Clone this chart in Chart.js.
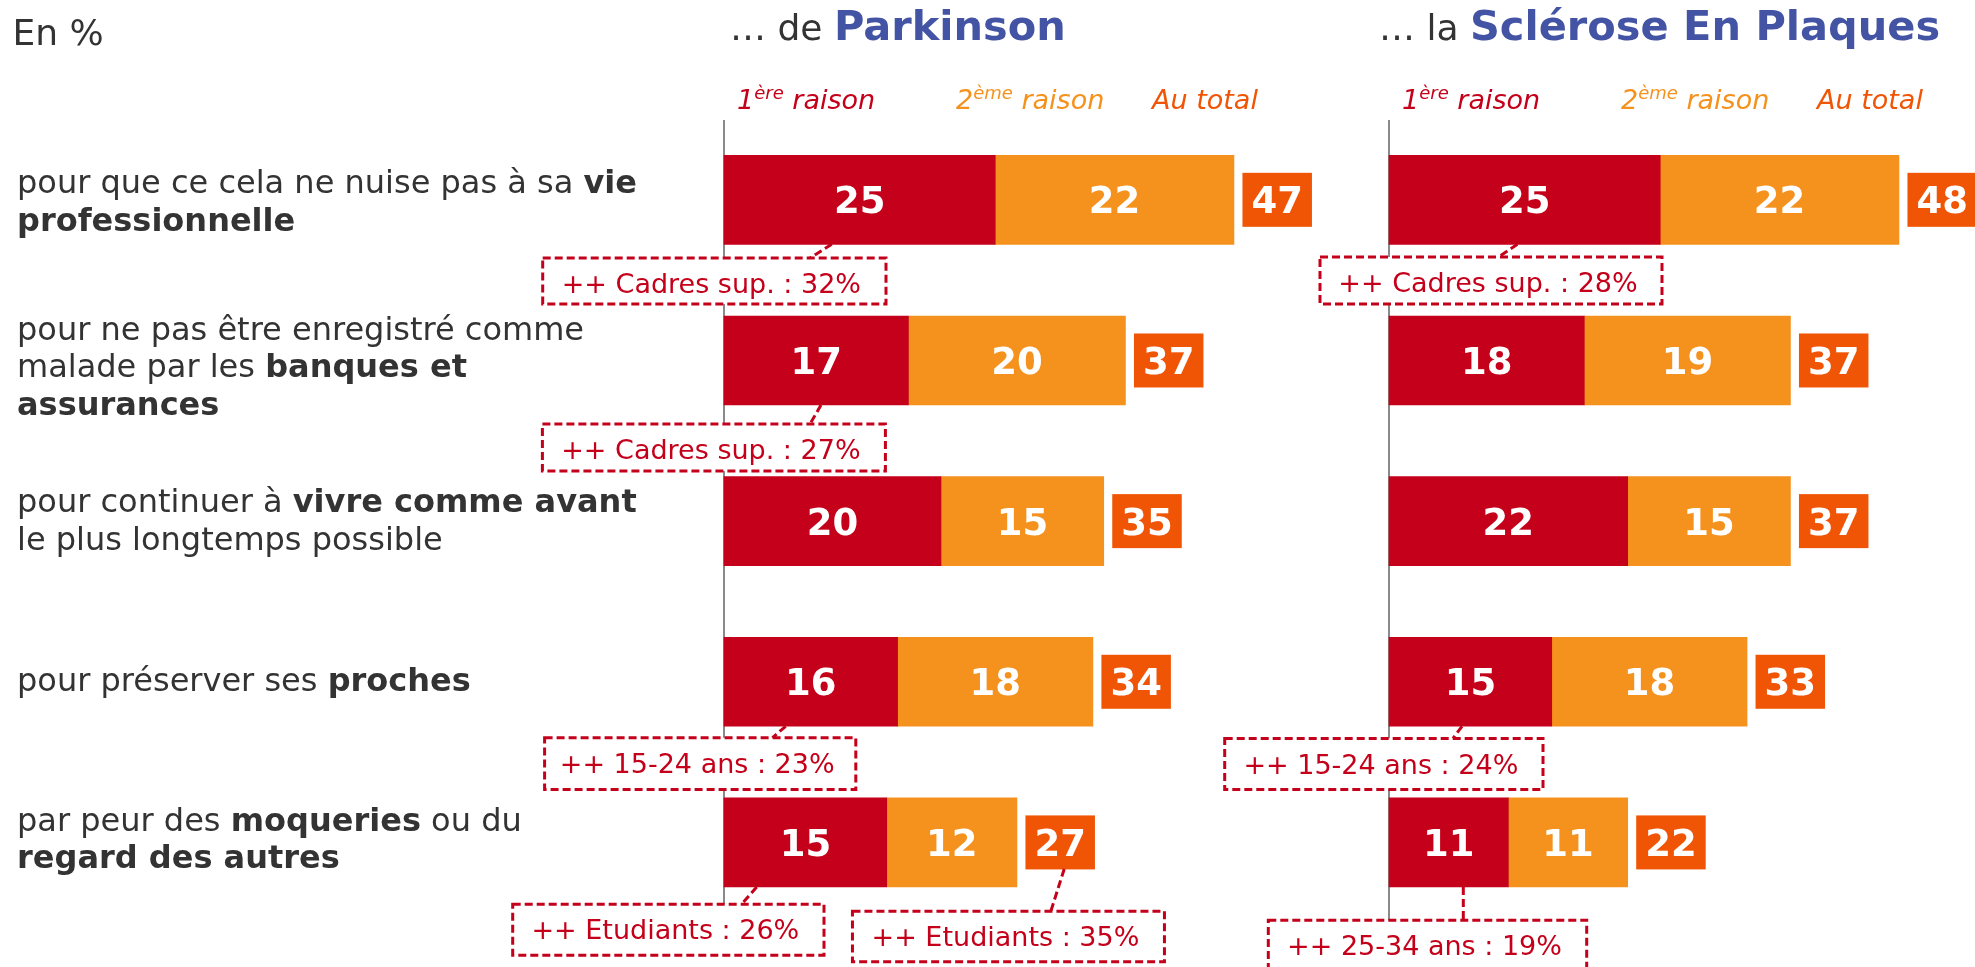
<!DOCTYPE html>
<html>
<head>
<meta charset="utf-8">
<script src="https://cdn.jsdelivr.net/npm/chart.js@4.4.0/dist/chart.umd.min.js"></script>
<style>
  html, body { margin: 0; padding: 0; background: #fff; }
</style>
</head>
<body>
<canvas id="myChart" width="1975" height="967"></canvas>
<script>
// ---- data ----
const categories = [
  'pour que ce cela ne nuise pas à sa **vie**|**professionnelle**',
  'pour ne pas être enregistré comme|malade par les **banques et**|**assurances**',
  'pour continuer à **vivre comme avant**|le plus longtemps possible',
  'pour préserver ses **proches**',
  'par peur des **moqueries** ou du|**regard des autres**'
];
const parkinsonFirst = [25, 17, 20, 16, 15];
const parkinsonSecond = [22, 20, 15, 18, 12];
const parkinsonTotal = [47, 37, 35, 34, 27];
const sepFirst = [25, 18, 22, 15, 11];
const sepSecond = [22, 19, 15, 18, 11];
const sepTotal = [48, 37, 37, 33, 22];

const parkinsonTitle = ['… de ', 'Parkinson'];
const sepTitle = ['… la ', 'Sclérose En Plaques'];
const seriesHeaders = [['1', 'ère', ' raison'], ['2', 'ème', ' raison'], ['Au total', '', '']];

const calloutPanel = ['xP', 'xP', 'xP', 'xP', 'xP', 'xS', 'xS', 'xS'];
const calloutRow = [0, 1, 3, 4, 4, 0, 3, 4];
const calloutText = [
  '++ Cadres sup. : 32%', '++ Cadres sup. : 27%', '++ 15-24 ans : 23%',
  '++ Etudiants : 26%', '++ Etudiants : 35%',
  '++ Cadres sup. : 28%', '++ 15-24 ans : 24%', '++ 25-34 ans : 19%'
];

// ---- layout / style ----
const W = 1975;
const UNIT = 10.85;               // px per point
const AXIS_P = 724, AXIS_S = 1389;
const RED = '#C4001A', ORANGE = '#F5921E', TOTAL = '#F05505', BLUE = '#4454A4', GREY = '#333333';
const FONT = '"DejaVu Sans", Verdana, sans-serif';
const headerColors = [RED, ORANGE, TOTAL];
const headerOffsets = [13, 232, 428];
const labelShift = [3, 8, 1, 0, -2];
// offsets from panel origin (or total box left) and row centre
const calloutLayout = [
  { anchor: 'bar', from: [107.7, 44.5], to: [86, 58.2], box: [-181.3, 58.2, 343.3, 46] },
  { anchor: 'bar', from: [97, 44.5], to: [86, 63.6], box: [-181.6, 63.6, 343, 47] },
  { anchor: 'bar', from: [61.7, 44.5], to: [48.3, 56], box: [-179.4, 56, 311.2, 51.6] },
  { anchor: 'bar', from: [32.7, 44.5], to: [17.7, 61.7], box: [-211.3, 61.7, 311.3, 51] },
  { anchor: 'total', from: [38.8, 26.5], to: [25.4, 68.7], box: [-173, 68.7, 312, 50.7] },
  { anchor: 'bar', from: [128.4, 44.5], to: [109.3, 57.2], box: [-69, 57.2, 342, 47] },
  { anchor: 'bar', from: [73, 44.5], to: [64, 56.6], box: [-164.3, 56.6, 318.3, 51] },
  { anchor: 'bar', from: [74.3, 44.5], to: [74.3, 77.7], box: [-120.7, 77.7, 318.4, 55] }
];

function font(size, weight, style) {
  return (style || '') + ' ' + (weight || '') + ' ' + size + 'px ' + FONT;
}

const panels = [
  { id: 'xP', first: parkinsonFirst, second: parkinsonSecond, total: parkinsonTotal, title: parkinsonTitle, titleX: 730 },
  { id: 'xS', first: sepFirst, second: sepSecond, total: sepTotal, title: sepTitle, titleX: 1379 }
];

function totalBoxLeft(chart, p, i) {
  return chart.scales[p.id].getPixelForValue(p.first[i] + p.second[i]) + 8.5;
}

const decor = {
  id: 'decor',
  beforeDatasetsDraw(chart) {
    const ctx = chart.ctx;
    ctx.save();
    ctx.strokeStyle = '#8a8a8a';
    ctx.lineWidth = 2;
    panels.forEach(p => {
      const x = chart.scales[p.id].getPixelForValue(0);
      ctx.beginPath();
      ctx.moveTo(x, 120);
      ctx.lineTo(x, chart.chartArea.bottom + 2);
      ctx.stroke();
    });
    ctx.restore();
  },
  afterDatasetsDraw(chart) {
    const ctx = chart.ctx;
    const yScale = chart.scales.y;
    ctx.save();

    // values inside bars
    ctx.fillStyle = '#fff';
    ctx.font = font(37, 'bold');
    ctx.textAlign = 'center';
    ctx.textBaseline = 'alphabetic';
    chart.data.datasets.forEach((ds, di) => {
      chart.getDatasetMeta(di).data.forEach((el, j) => {
        ctx.fillText(ds.data[j], (el.x + el.base) / 2, el.y + 13.5);
      });
    });

    // total boxes
    panels.forEach(p => {
      p.total.forEach((t, i) => {
        const x = totalBoxLeft(chart, p, i);
        const y = yScale.getPixelForValue(i);
        ctx.fillStyle = TOTAL;
        ctx.fillRect(x, y - 27, 69.5, 54);
        ctx.fillStyle = '#fff';
        ctx.fillText(t, x + 34.75, y + 13.5);
      });
    });

    // callouts
    calloutText.forEach((txt, k) => {
      const p = panels.find(pp => pp.id === calloutPanel[k]);
      const L = calloutLayout[k];
      const row = calloutRow[k];
      const cy = yScale.getPixelForValue(row);
      const ox = L.anchor === 'total' ? totalBoxLeft(chart, p, row) : chart.scales[p.id].getPixelForValue(0);
      ctx.strokeStyle = RED;
      ctx.lineWidth = 3;
      ctx.setLineDash([8, 4]);
      ctx.beginPath();
      ctx.moveTo(ox + L.from[0], cy + L.from[1]);
      ctx.lineTo(ox + L.to[0], cy + L.to[1]);
      ctx.stroke();
      const bx = ox + L.box[0], by = cy + L.box[1], bw = L.box[2], bh = L.box[3];
      ctx.fillStyle = '#fff';
      ctx.fillRect(bx, by, bw, bh);
      ctx.strokeRect(bx, by, bw, bh);
      ctx.setLineDash([]);
      ctx.fillStyle = RED;
      ctx.font = font(27);
      ctx.textAlign = 'center';
      ctx.fillText(txt, bx + bw / 2 - 3, by + 35.3);
    });

    // category labels
    ctx.textAlign = 'left';
    ctx.fillStyle = GREY;
    categories.forEach((lab, i) => {
      const lines = lab.split('|');
      const cy = yScale.getPixelForValue(i) + labelShift[i];
      lines.forEach((line, li) => {
        let x = 17;
        const y = cy + (li - (lines.length - 1) / 2) * 37.5 + 9;
        line.split('**').forEach((seg, si) => {
          ctx.font = font(32, si % 2 ? 'bold' : '');
          ctx.fillText(seg, x, y);
          x += ctx.measureText(seg).width;
        });
      });
    });

    // "En %"
    ctx.font = font(36);
    ctx.fillText('En %', 12.6, 45);

    // panel titles and series headers
    panels.forEach(p => {
      let x = p.titleX;
      ctx.fillStyle = GREY;
      ctx.font = font(36);
      ctx.fillText(p.title[0], x, 40);
      x += ctx.measureText(p.title[0]).width;
      ctx.fillStyle = BLUE;
      ctx.font = font(41.5, 'bold');
      ctx.fillText(p.title[1], x, 40);

      const ax = chart.scales[p.id].getPixelForValue(0);
      seriesHeaders.forEach((h, k) => {
        let hx = ax + headerOffsets[k];
        ctx.fillStyle = headerColors[k];
        ctx.font = font(27, '', 'italic');
        ctx.fillText(h[0], hx, 109);
        hx += ctx.measureText(h[0]).width;
        ctx.font = font(18, '', 'italic');
        ctx.fillText(h[1], hx, 99);
        hx += ctx.measureText(h[1]).width;
        ctx.font = font(27, '', 'italic');
        ctx.fillText(h[2], hx, 109);
      });
    });

    ctx.restore();
  }
};

const ctx = document.getElementById('myChart');

const data = {
  labels: categories,
  datasets: [
    { label: '1ère raison (Parkinson)', data: parkinsonFirst, xAxisID: 'xP', stack: 'row', backgroundColor: RED },
    { label: '2ème raison (Parkinson)', data: parkinsonSecond, xAxisID: 'xP', stack: 'row', backgroundColor: ORANGE },
    { label: '1ère raison (SEP)', data: sepFirst, xAxisID: 'xS', stack: 'row', backgroundColor: RED },
    { label: '2ème raison (SEP)', data: sepSecond, xAxisID: 'xS', stack: 'row', backgroundColor: ORANGE }
  ]
};

const config = {
  type: 'bar',
  data: data,
  options: {
    responsive: false,
    animation: false,
    indexAxis: 'y',
    datasets: { bar: { barThickness: 89, borderWidth: 0 } },
    layout: { padding: { top: 119.5, bottom: 44.25, left: 0, right: 0 } },
    plugins: {
      legend: { display: false },
      tooltip: { enabled: false },
      title: { display: false }
    },
    scales: {
      y: { display: false, stacked: true },
      xP: { axis: 'x', type: 'linear', display: false, stacked: true, min: -AXIS_P / UNIT, max: (W - AXIS_P) / UNIT },
      xS: { axis: 'x', type: 'linear', display: false, stacked: true, min: -AXIS_S / UNIT, max: (W - AXIS_S) / UNIT }
    }
  },
  plugins: [decor]
};

const myChart = new Chart(ctx, config);
</script>
</body>
</html>
